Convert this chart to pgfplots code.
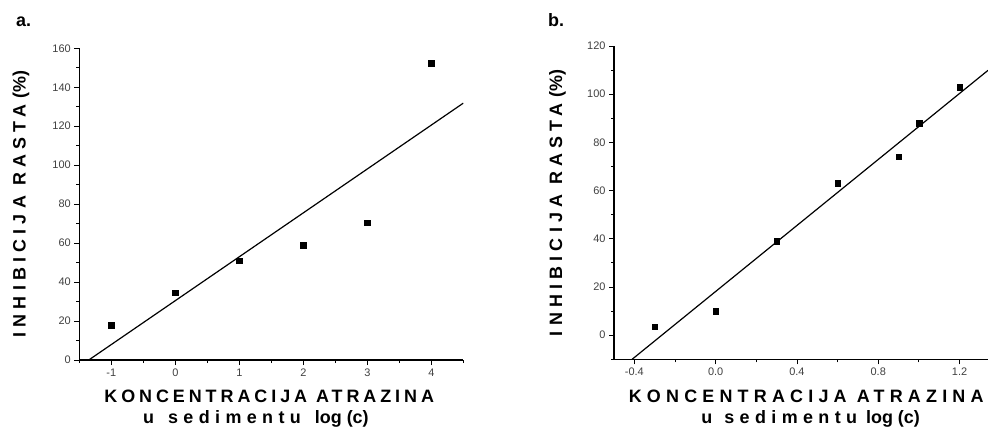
\documentclass[border=0pt]{standalone}
\usepackage{pgfplots}
\pgfplotsset{compat=1.18}
\usepackage{fontspec}
\setmainfont{Liberation Sans}
\newcommand{\ls}[2]{{\addfontfeature{LetterSpace=#1}#2}}
\newcommand{\bigb}{\fontsize{18}{19}\bfseries\selectfont}
\begin{document}
\begin{tikzpicture}[x=1bp,y=1bp]
\useasboundingbox (0,0) rectangle (988,430);
\pgfplotsset{
  mystyle/.style={
    scale only axis, axis lines*=left, tick align=outside,
    axis line style={line width=1.1bp},
    major tick length=5bp, minor tick length=3bp,
    every tick/.style={black, line width=0.9bp},
    tick label style={font=\fontsize{11}{11}\selectfont, text=black!75},
    /pgf/number format/assume math mode=true,
  }
}
% panel a
\begin{axis}[mystyle, at={(79.3bp,70bp)}, anchor=south west,
  width=384bp, height=311.7bp,
  xmin=-1.5, xmax=4.5, ymin=0, ymax=160,
  xtick={-1,0,1,2,3,4}, xticklabels={-1,0,1,2,3,4},
  minor xtick={-1.5,-0.5,0.5,1.5,2.5,3.5,4.5},
  ytick={0,20,...,160}, minor ytick={10,30,...,150}]
\addplot[only marks, mark=square*, mark size=2.8bp, black] coordinates {
  (-1,18) (0,34.5) (1,51) (2,59) (3,70.5) (4,152.5)};
\addplot[no marks, line width=1.2bp, black] coordinates {(-1.352,0) (4.5,131.85)};
\end{axis}
% panel b
\begin{axis}[mystyle, at={(614bp,70.7bp)}, anchor=south west,
  width=374bp, height=313.3bp,
  xmin=-0.5, xmax=1.34, ymin=-10, ymax=120,
  xtick={-0.4,0,0.4,0.8,1.2}, xticklabels={-0.4,0.0,0.4,0.8,1.2},
  minor xtick={-0.2,0.2,0.6,1.0},
  ytick={0,20,...,120}, minor ytick={-10,10,30,...,110}]
\addplot[only marks, mark=square*, mark size=2.8bp, black] coordinates {
  (-0.3,3.5) (0,10) (0.3,39) (0.6,63) (0.9,74) (1.0,88) (1.2,103)};
\addplot[no marks, line width=1.2bp, black] coordinates {(-0.411,-10) (1.34,109.9)};
\end{axis}
% panel letters
\node[anchor=base west, inner sep=0, font=\fontsize{18}{18}\bfseries\selectfont] at (16,403.3) {a.};
\node[anchor=base west, inner sep=0, font=\fontsize{18}{18}\bfseries\selectfont] at (548,403.3) {b.};
% y labels
\node[rotate=90, anchor=base, inner sep=0, font=\bigb] at (25.7,226) {\ls{29}{INHIBICIJA RASTA}\hspace{6bp}(\%)};
\node[rotate=90, anchor=base, inner sep=0, font=\bigb] at (562,227.3) {\ls{29}{INHIBICIJA RASTA}\hspace{6bp}(\%)};
% x labels a
\node[anchor=base, inner sep=0, font=\bigb] at (269.2,27.3) {\ls{22}{KONCENTRACIJA ATRAZINA}};
\node[anchor=base west, inner sep=0, font=\bigb] at (143,6.7) {u\hspace{14bp}\ls{30}{sedimentu}\hspace{14bp}log (c)};
% x labels b
\node[anchor=base, inner sep=0, font=\bigb] at (806.2,27.3) {\ls{29}{KONCENTRACIJA ATRAZINA}};
\node[anchor=base west, inner sep=0, font=\bigb] at (701.2,6.7) {u\hspace{12bp}\ls{30}{sedimentu}\hspace{9bp}log (c)};
\end{tikzpicture}
\end{document}
